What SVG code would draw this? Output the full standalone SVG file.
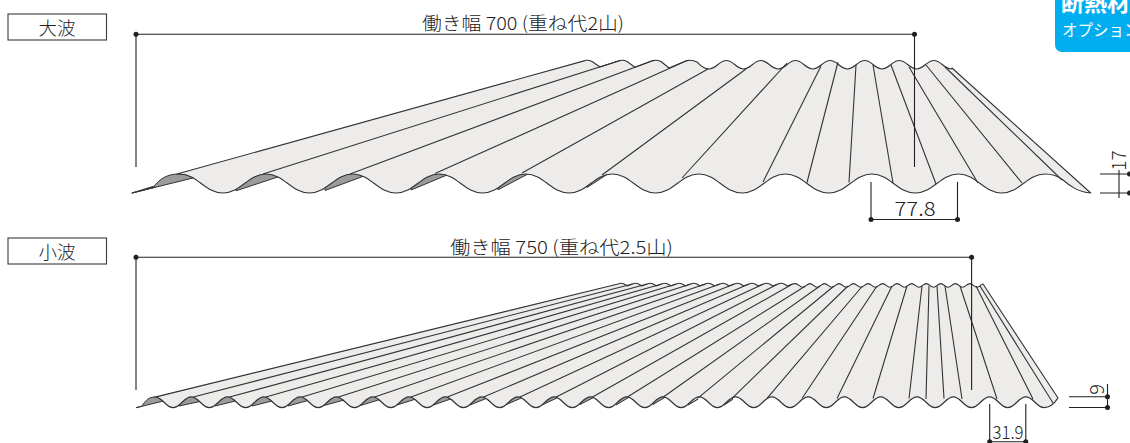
<svg xmlns="http://www.w3.org/2000/svg" width="1130" height="443" viewBox="0 0 1130 443">
<style>
text{font-family:"Noto Sans CJK JP","Noto Sans",sans-serif;font-weight:300;fill:#222}
.panel{fill:#edecea;stroke:#333;stroke-width:1.1;stroke-linejoin:round}
.shade{fill:#9b9b9b;stroke:#333;stroke-width:1}
.ln{fill:none;stroke:#333;stroke-width:1.1}
.dim{fill:none;stroke:#231f20;stroke-width:1.1}
.dot{fill:#231f20}
.box{fill:#fff;stroke:#3a3a3a;stroke-width:1.1}
</style>
<g id="label-large"><rect class="box" x="8" y="14" width="98.5" height="26"/><text x="57" y="34.5" font-size="18.5" text-anchor="middle">大波</text></g>
<g id="label-small"><rect class="box" x="8" y="238" width="98.5" height="26"/><text x="57" y="258.5" font-size="18.5" text-anchor="middle">小波</text></g>
<g id="option-tab"><rect x="1055" y="-12" width="90" height="64" rx="7" fill="#00aeef"/><text x="1061" y="10.5" font-size="23" style="fill:#fff;font-weight:700">断熱材</text><text x="1062" y="35.5" font-size="15.5" style="fill:#fff;font-weight:400">オプション</text></g>
<g id="panel-large">
<path class="shade" d="M132,193 L153,187.6 C160,178 168,174 179,174 C186,174 190,175.5 193,178 Z"/>
<path class="panel" d="M132,193 L153,186.6 L154.5,187.3 Z"/>
<path class="shade" d="M236,190.8 L236,170 L279,170 L279,176.6 Z"/>
<path class="shade" d="M325,190.5 L325,170 L364,170 L364,176 Z"/>
<path class="shade" d="M411,190 L411,170 L447,170 L447,175 Z"/>
<path class="shade" d="M498,189.8 L498,170 L527,170 L527,174.5 Z"/>
<path class="shade" d="M587,187.5 L587,170 L607,170 L607,174.5 Z"/>
<path class="panel" d="M177,174 L585,60.6 Q588,59.6 592,61.5 L600,67 L620,60.6 Q623,59.6 627,61.5 L635,67.2 L653,60.6 Q657,59.6 661,61.5 L669,68 L687,60.6 Q692,59.6 697,62 C700,65 703,69 709,69
c7,0 10.3,-8.5 17.3,-8.5 7,0 10.3,8.5 17.3,8.5 7,0 10.3,-8.5 17.3,-8.5 7,0 10.3,8.5 17.3,8.5
7,0 10.3,-8.5 17.3,-8.5 7,0 10.3,8.5 17.3,8.5 7,0 10.3,-8.5 17.3,-8.5 7,0 10.3,8.5 17.3,8.5
7,0 10.3,-8.5 17.3,-8.5 7,0 10.3,8.5 17.3,8.5 7,0 10.3,-8.5 17.3,-8.5 7,0 10.3,8.5 17.3,8.5
7,0 10.3,-8.5 17.3,-8.5 7,0 10.3,8.5 17.3,8.5
L952,68 L1090.7,193 C1078,192 1070,186 1063,180 C1058,176 1052,174 1045,174
c-18,0 -25.27,19 -43.27,19 -18,0 -25.27,-19 -43.27,-19 -18,0 -25.27,19 -43.27,19 -18,0 -25.27,-19 -43.27,-19
-18,0 -25.27,19 -43.27,19 -18,0 -25.27,-19 -43.27,-19 -18,0 -25.27,19 -43.27,19 -18,0 -25.27,-19 -43.27,-19
-18,0 -25.27,19 -43.27,19 -18,0 -25.27,-19 -43.27,-19 -18,0 -25.27,19 -43.27,19 -18,0 -25.27,-19 -43.27,-19
-18,0 -25.27,19 -43.27,19 -18,0 -25.27,-19 -43.27,-19 -18,0 -25.27,19 -43.27,19 -18,0 -25.27,-19 -43.27,-19
-18,0 -25.27,19 -43.27,19 -18,0 -25.27,-19 -43.27,-19 -18,0 -25.27,19 -43.27,19 -18,0 -25.27,-19 -43.27,-19 Z"/>
<path class="ln" d="M263,174 L620,60.6 M350,174 L653,60.6 M435,173.5 L687,60.6 M522,173 L708,69 M602,175 L746,69 M682,178 L787,63 M763,182 L821,66 M807,182.5 L838,62 M849,182.5 L856,65 M893,183 L873,65 M936,184 L891,65 M978,183 L909,67 M1022,183 L926,65 M1062,180 L945,67"/>
</g>
<g id="panel-small">
<path class="shade" d="M136,407.7 L163.5,401 C160,398.5 158,397 155,397 C149,397 146,400 141.5,406.4 Z"/>
<path class="shade" d="M179,406 L179,392 L200,392 L200,401.5 Z"/>
<path class="shade" d="M215,406 L215,392 L235.5,392 L235.5,401 Z"/>
<path class="shade" d="M252,406 L252,392 L272,392 L272,401 Z"/>
<path class="shade" d="M288,406 L288,392 L308,392 L308,400.5 Z"/>
<path class="shade" d="M324,405.5 L324,392 L344,392 L344,400 Z"/>
<path class="shade" d="M360.5,405.5 L360.5,392 L380,392 L380,399.5 Z"/>
<path class="shade" d="M397,405 L397,392 L416,392 L416,399 Z"/>
<path class="shade" d="M433.5,405 L433.5,392 L452,392 L452,398.5 Z"/>
<path class="shade" d="M470,405 L470,392 L487.5,392 L487.5,398 Z"/>
<path class="shade" d="M506.5,404.5 L506.5,392 L522,392 L522,397.7 Z"/>
<path class="shade" d="M543,404.5 L543,392 L558,392 L558,397.5 Z"/>
<path class="shade" d="M580,404.5 L580,392 L594,392 L594,397.3 Z"/>
<path class="shade" d="M616,405 L616,392 L629,392 L629,397.3 Z"/>
<path class="shade" d="M653,404.5 L653,392 L665,392 L665,397.3 Z"/>
<path class="panel" d="M157,396.6 L618,284
c2,-1 4,-1 6,0 1.5,.8 2.5,1.5 3,2 l5.55,-2 c2,-1 4,-1 6,0 1.5,.8 2.5,1.5 3,2 l5.55,-2 c2,-1 4,-1 6,0 1.5,.8 2.5,1.5 3,2 l5.55,-2 c2,-1 4,-1 6,0 1.5,.8 2.5,1.5 3,2 l5.55,-2
c2,-1 4,-1 6,0 1.5,.8 2.5,1.5 3,2 l5.55,-2 c2,-1 4,-1 6,0 1.5,.8 2.5,1.5 3,2 l5.55,-2 c2,-1 4,-1 6,0 1.5,.8 2.5,1.5 3,2 l5.55,-2 c2,-1 4,-1 6,0 1.5,.8 2.5,1.5 3,2 l5.55,-2
c2,-1 4,-1 6,0 1.5,.8 2.5,1.5 3,2 l5.55,-2 c2,-1 4,-1 6,0 1.5,.8 2.5,1.5 3,2 l5.55,-2 c2,-1 4,-1 6,0 1.5,.8 2.5,1.5 3,2 l5.55,-2 c2,-1 4,-1 6,0 1.5,.8 2.5,1.5 3,2 l5.55,-2
c1,-.3 2,-.4 2.8,-.4
c3,0 4.27,3.6 7.27,3.6 3,0 4.27,-3.6 7.27,-3.6 3,0 4.27,3.6 7.27,3.6 3,0 4.27,-3.6 7.27,-3.6
3,0 4.27,3.6 7.27,3.6 3,0 4.27,-3.6 7.27,-3.6 3,0 4.27,3.6 7.27,3.6 3,0 4.27,-3.6 7.27,-3.6
3,0 4.27,3.6 7.27,3.6 3,0 4.27,-3.6 7.27,-3.6 3,0 4.27,3.6 7.27,3.6 3,0 4.27,-3.6 7.27,-3.6
3,0 4.27,3.6 7.27,3.6 3,0 4.27,-3.6 7.27,-3.6 3,0 4.27,3.6 7.27,3.6 3,0 4.27,-3.6 7.27,-3.6
3,0 4.27,3.6 7.27,3.6 3,0 4.27,-3.6 7.27,-3.6 3,0 4.27,3.6 7.27,3.6 3,0 4.27,-3.6 7.27,-3.6
3,0 4.27,3.6 7.27,3.6 3,0 4.27,-3.6 7.27,-3.6 3,0 4.27,3.6 7.27,3.6 3,0 4.27,-3.6 7.27,-3.6
3,0 4.27,3.6 7.27,3.6
L980,286 Q981,284.2 983,284 L1058,398 C1056,401 1052,407.6 1044,407.6
c-7.5,0 -10.6,-10.7 -18.145,-10.7 -7.5,0 -10.6,10.7 -18.145,10.7 -7.5,0 -10.6,-10.7 -18.145,-10.7 -7.5,0 -10.6,10.7 -18.145,10.7
-7.5,0 -10.6,-10.7 -18.145,-10.7 -7.5,0 -10.6,10.7 -18.145,10.7 -7.5,0 -10.6,-10.7 -18.145,-10.7 -7.5,0 -10.6,10.7 -18.145,10.7
-7.5,0 -10.6,-10.7 -18.145,-10.7 -7.5,0 -10.6,10.7 -18.145,10.7 -7.5,0 -10.6,-10.7 -18.145,-10.7 -7.5,0 -10.6,10.7 -18.145,10.7
-7.5,0 -10.6,-10.7 -18.145,-10.7 -7.5,0 -10.6,10.7 -18.145,10.7 -7.5,0 -10.6,-10.7 -18.145,-10.7 -7.5,0 -10.6,10.7 -18.145,10.7
-7.5,0 -10.6,-10.7 -18.145,-10.7 -7.5,0 -10.6,10.7 -18.145,10.7 -7.5,0 -10.6,-10.7 -18.145,-10.7 -7.5,0 -10.6,10.7 -18.145,10.7
-7.5,0 -10.6,-10.7 -18.145,-10.7 -7.5,0 -10.6,10.7 -18.145,10.7 -7.5,0 -10.6,-10.7 -18.145,-10.7 -7.5,0 -10.6,10.7 -18.145,10.7
-7.5,0 -10.6,-10.7 -18.145,-10.7 -7.5,0 -10.6,10.7 -18.145,10.7 -7.5,0 -10.6,-10.7 -18.145,-10.7 -7.5,0 -10.6,10.7 -18.145,10.7
-7.5,0 -10.6,-10.7 -18.145,-10.7 -7.5,0 -10.6,10.7 -18.145,10.7 -7.5,0 -10.6,-10.7 -18.145,-10.7 -7.5,0 -10.6,10.7 -18.145,10.7
-7.5,0 -10.6,-10.7 -18.145,-10.7 -7.5,0 -10.6,10.7 -18.145,10.7 -7.5,0 -10.6,-10.7 -18.145,-10.7 -7.5,0 -10.6,10.7 -18.145,10.7
-7.5,0 -10.6,-10.7 -18.145,-10.7 -7.5,0 -10.6,10.7 -18.145,10.7 -7.5,0 -10.6,-10.7 -18.145,-10.7 -7.5,0 -10.6,10.7 -18.145,10.7
-7.5,0 -10.6,-10.7 -18.145,-10.7 -7.5,0 -10.6,10.7 -18.145,10.7 -7.5,0 -10.6,-10.7 -18.145,-10.7 -7.5,0 -10.6,10.7 -18.145,10.7
-7.5,0 -10.6,-10.7 -18.145,-10.7 -7.5,0 -10.6,10.7 -18.145,10.7 -7.5,0 -10.6,-10.7 -18.145,-10.7 -7.5,0 -10.6,10.7 -18.145,10.7
-7.5,0 -10.6,-10.7 -18.145,-10.7 Z"/>
<path class="ln" d="M193.3,397 L632.5,284 M229.6,397 L647.1,284 M265.9,397 L661.7,284 M302.2,397 L676.2,284 M338.5,397 L690.8,284 M374.7,397 L705.3,284 M411,397 L719.9,284 M447.3,397 L734.4,284 M483.6,397 L749,284 M519.9,397 L763.5,284 M556.2,397 L778,284 M592.5,397 L792.6,284 M627,397.3 L805.5,286 M663,397.3 L820,286 M697.5,398.3 L834,286 M732,398.3 L848,286 M767,398.3 L862.5,286 M802,398.5 L877,286 M837,398.5 L892,286 M873,398.5 L907,286 M909,398.5 L922,286 M944,398.5 L937,286 M926,399 L929,286 M962,399 L945,286 M997,399 L960,286 M1033,399 L976,286 M1053,403 L980,286 M688,405 L698,399 M724,405 L733,399"/>
</g>
<g id="connectors">
<path class="dim" d="M136,167 V34.3 H914.5 V167 M871,182 V219.5 H957.5 V182 M1100,174 H1130 M1100,193 H1130 M1119,170 V198"/>
<path class="dim" d="M136,390 V257.3 H971.6 V390 M989.7,404 V441.7 H1025.8 V404 M1069,396.8 H1107.5 M1069,407.5 H1107.5 M1107.5,384 V408"/>
<circle class="dot" cx="136" cy="34.3" r="2.5"/><circle class="dot" cx="914.5" cy="34.3" r="2.5"/>
<circle class="dot" cx="871" cy="219.5" r="2.5"/><circle class="dot" cx="957.5" cy="219.5" r="2.5"/>
<circle class="dot" cx="1129.5" cy="174" r="2.5"/><circle class="dot" cx="1129.5" cy="193" r="2.5"/>
<circle class="dot" cx="136" cy="257.3" r="2.5"/><circle class="dot" cx="971.6" cy="257.3" r="2.5"/>
<circle class="dot" cx="989.7" cy="441.7" r="2.5"/><circle class="dot" cx="1025.8" cy="441.7" r="2.5"/>
<circle class="dot" cx="1107.5" cy="396.8" r="2.5"/><circle class="dot" cx="1107.5" cy="407.5" r="2.5"/>
</g>
<g id="dim-labels">
<text x="523" y="30" font-size="18" text-anchor="middle" textLength="202" lengthAdjust="spacingAndGlyphs">働き幅 700 (重ね代2山)</text>
<text x="561.5" y="253.5" font-size="18" text-anchor="middle" textLength="223" lengthAdjust="spacingAndGlyphs">働き幅 750 (重ね代2.5山)</text>
<text x="915" y="216" font-size="20" text-anchor="middle" textLength="41" lengthAdjust="spacingAndGlyphs">77.8</text>
<text x="1008" y="438.5" font-size="18.5" text-anchor="middle" textLength="31" lengthAdjust="spacingAndGlyphs">31.9</text>
<text transform="translate(1125.5,160.5) rotate(-90)" font-size="19" text-anchor="middle">17</text>
<text transform="translate(1104,389.5) rotate(-90)" font-size="20" text-anchor="middle">9</text>
</g>
</svg>
